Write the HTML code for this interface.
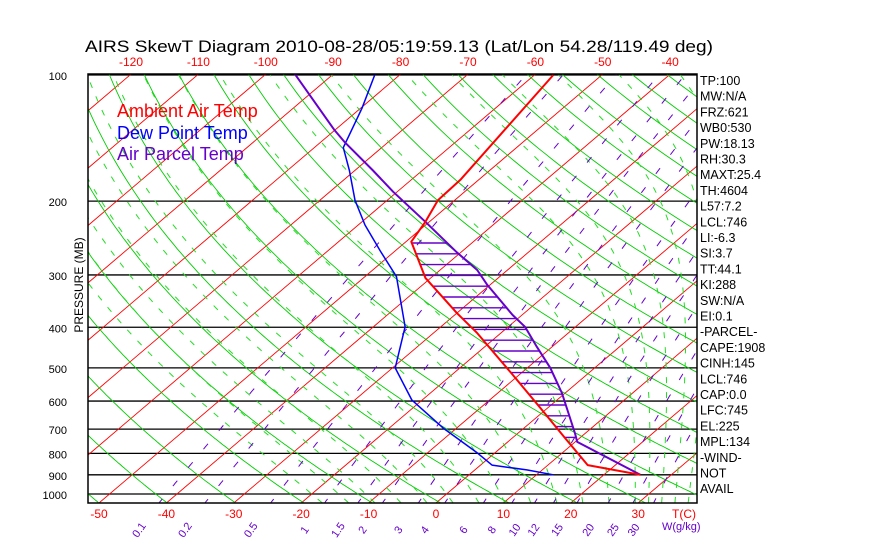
<!DOCTYPE html>
<html><head><meta charset="utf-8"><style>
html,body{margin:0;padding:0;background:#fff;}
svg{display:block;font-family:"Liberation Sans",sans-serif;}
</style></head><body>
<svg id="chart" width="870" height="560" viewBox="0 0 870 560">
<text x="85" y="52" font-size="17" textLength="628" lengthAdjust="spacingAndGlyphs">AIRS SkewT Diagram 2010-08-28/05:19:59.13 (Lat/Lon 54.28/119.49 deg)</text>
<defs><clipPath id="plotclip"><rect x="88" y="74" width="609" height="429"/></clipPath></defs>
<g id="grid" clip-path="url(#plotclip)"></g>
<g id="series" clip-path="url(#plotclip)"></g>
<rect x="88" y="74" width="609" height="429" fill="none" stroke="#000" stroke-width="1.5"/>
<g id="labels"></g>
<text x="117" y="117" font-size="18" fill="#f00">Ambient Air Temp</text>
<text x="117" y="139" font-size="18" fill="#00f">Dew Point Temp</text>
<text x="117" y="160" font-size="18" fill="#60c">Air Parcel Temp</text>
<text transform="translate(83,285) rotate(-90)" font-size="12" text-anchor="middle">PRESSURE (MB)</text>
</svg>
<script>
// ---- data ----
const ambientP = [100,178,199,224,250,305,370,413,520,623,735,853,900];
const ambientT = [-57.2,-52.7,-52.5,-50.6,-49.2,-40.8,-30.0,-23.5,-10.9,-1.1,7.8,15.9,25.4];
const parcelP = [99.5,135,145,169,190,224,265,292,317,374,399,446,500,574,715,751,900];
const parcelT = [-95.7,-80.2,-76.3,-67.3,-60.6,-50.6,-40.6,-34.5,-30.4,-21.4,-17.5,-12.2,-6.6,-0.5,8.4,10.3,25.4];
const dewP = [100,120,149,169,199,228,263,303,399,500,597,696,798,853,876,900];
const dewT = [-83.7,-79.8,-75.7,-70.8,-64.8,-59.0,-52.2,-45.3,-35.3,-29.6,-21.5,-12.0,-2.6,1.7,7.7,12.5];
const pressureTicks = [100,200,300,400,500,600,700,800,900,1000];
const bottomTempTicks = [-50,-40,-30,-20,-10,0,10,20,30];
const topTempTicks = [-120,-110,-100,-90,-80,-70,-60,-50,-40];
const mixingRatios = [0.1,0.2,0.5,1,1.5,2,3,4,6,8,10,12,15,20,25,30];
const indexLabels = ["TP:100","MW:N/A","FRZ:621","WB0:530","PW:18.13","RH:30.3","MAXT:25.4","TH:4604","L57:7.2","LCL:746","LI:-6.3","SI:3.7","TT:44.1","KI:288","SW:N/A","EI:0.1","-PARCEL-","CAPE:1908","CINH:145","LCL:746","CAP:0.0","LFC:745","EL:225","MPL:134","-WIND-","  NOT","AVAIL"];

// ---- axes ----
const NS='http://www.w3.org/2000/svg';
function yOf(p){return 75+419*Math.log10(p/100);}
function xOf(T,p){const y=yOf(p);return 436+1.1748*(503-y)+6.74*T;}
function mk(tag,attrs,parent){const e=document.createElementNS(NS,tag);for(const k in attrs)e.setAttribute(k,attrs[k]);parent.appendChild(e);return e;}
const grid=document.getElementById('grid'),series=document.getElementById('series'),labels=document.getElementById('labels');
function pathFrom(pts){return pts.map((q,i)=>(i?'L':'M')+q[0].toFixed(1)+','+q[1].toFixed(1)).join('');}
const plevels=[];for(let p=1060;p>=95;p-=5)plevels.push(p);

// isobars
pressureTicks.forEach(p=>{
  const l=mk('line',{x1:88,x2:697,y1:yOf(p),y2:yOf(p),stroke:'#000','stroke-width':1.3},grid);
  
  
  const t=mk('text',{x:67,y:yOf(p)+5,'font-size':11,'text-anchor':'end'},labels);
  t.textContent=p;
  
  
});
// isotherms
for(let T=-170;T<=50;T+=10){
  const l=mk('line',{x1:xOf(T,1050),y1:yOf(1050),x2:xOf(T,95),y2:yOf(95),stroke:'#f00','stroke-width':0.9},grid);
  
  
}
// dry adiabats
for(let th=200;th<=520;th+=10){
  const pts=plevels.map(p=>[xOf(th*Math.pow(p/1000,0.286)-273.15,p),yOf(p)]);
  const l=mk('path',{d:pathFrom(pts),fill:'none',stroke:'#0c0','stroke-width':0.9},grid);
  
  
}
// moist adiabats
function es(Tc){return 6.112*Math.exp(17.67*Tc/(Tc+243.5));}
const moistStarts=[];for(let t=-20;t<=28;t+=4)moistStarts.push(t);for(let t=30;t<=44;t+=2)moistStarts.push(t);
moistStarts.forEach(tw=>{
  let T=tw+273.15,p=1050;
  // integrate down to 1050 first
  const step=(T,p)=>{const e=es(T-273.15);const rs=0.622*e/(p-e);return (287*T+2.5e6*rs)/(p*(1004+2.5e6*2.5e6*rs*0.622/(287*T*T)));};
  T=tw+273.15;p=1000;
  for(let q=1000;q<1050;q+=1){T+=step(T,q);}
  p=1050;const pts=[];
  while(p>=100){pts.push([xOf(T-273.15,p),yOf(p)]);for(let k=0;k<5;k++){T-=step(T,p);p-=1;}}
  const l=mk('path',{d:pathFrom(pts),fill:'none',stroke:'#2d2','stroke-width':1,'stroke-dasharray':'6,9'},grid);
  
  
});
// mixing ratio lines
function tdFromW(w,p){const e=w/1000*p/(0.622+w/1000);const L=Math.log(e/6.112);return 243.5*L/(17.67-L);}
mixingRatios.forEach(w=>{
  const pts=plevels.map(p=>[xOf(tdFromW(w,p),p),yOf(p)]);
  const l=mk('path',{d:pathFrom(pts),fill:'none',stroke:'#60c','stroke-width':1,'stroke-dasharray':'7,17'},grid);
  
  
  const x=xOf(tdFromW(w,1050),1050)-17;
  const t=mk('text',{transform:'translate('+x.toFixed(1)+',532) rotate(-55)','font-size':11,fill:'#60c','text-anchor':'middle'},labels);
  t.textContent=w;
  
  
});
// temperature labels
bottomTempTicks.forEach(T=>{
  const t=mk('text',{x:436+6.74*T,y:518,'font-size':12,fill:'#f00','text-anchor':'middle'},labels);
  t.textContent=T;
  
  
});
topTempTicks.forEach(T=>{
  const t=mk('text',{x:131+6.74*(T+120),y:66,'font-size':12,fill:'#f00','text-anchor':'middle'},labels);
  t.textContent=T;
  
  
});
{const t=mk('text',{x:672,y:518,'font-size':12,fill:'#f00'},labels);t.textContent='T(C)';


const g=mk('text',{x:662,y:530,'font-size':11,fill:'#60c'},labels);g.textContent='W(g/kg)';

}
// index labels
indexLabels.forEach((s,i)=>{
  const t=mk('text',{x:700,y:85+i*15.7,'font-size':12.5,'xml:space':'preserve'},labels);
  t.textContent=s;
  
  
});
// hatching between parcel and ambient
function interpT(P,Tarr,p){for(let i=0;i<P.length-1;i++){if(p>=P[i]&&p<=P[i+1]){const f=(Math.log(p)-Math.log(P[i]))/(Math.log(P[i+1])-Math.log(P[i]));return Tarr[i]+f*(Tarr[i+1]-Tarr[i]);}}return null;}
for(let y=243;y<=440;y+=10.8){
  const p=100*Math.pow(10,(y-75)/419);
  const ta=interpT(ambientP,ambientT,p),tp=interpT(parcelP,parcelT,p);
  if(ta===null||tp===null||tp<=ta)continue;
  const l=mk('line',{x1:xOf(ta,p),x2:xOf(tp,p),y1:y,y2:y,stroke:'#60c','stroke-width':1.4},series);
  
  
}
// series
function line(P,T,color,w,name){
  const pts=P.map((p,i)=>[xOf(T[i],p),yOf(p)]);
  const l=mk('path',{d:pathFrom(pts),fill:'none',stroke:color,'stroke-width':w,'stroke-linejoin':'round'},series);
  
  
}
line(dewP,dewT,'#00f',1.5,'dewpoint-line');
line(parcelP,parcelT,'#60c',2,'parcel-line');
line(ambientP,ambientT,'#f00',2,'ambient-temp-line');
</script>
</body></html>
